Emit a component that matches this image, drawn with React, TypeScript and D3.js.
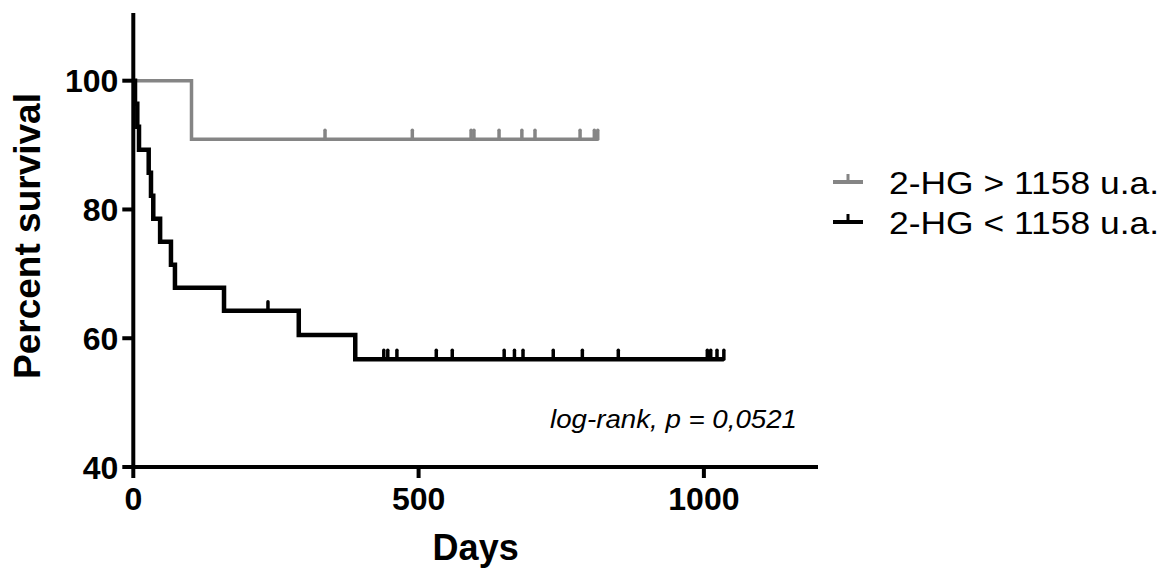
import React from "react";
import * as d3 from "d3";

// ---- data ----
const xTicks = [0, 500, 1000];
const yTicks = [40, 60, 80, 100];
const highEvents = [102];
const highCensored = [336, 489, 592, 597, 641, 681, 704, 783, 808, 814];
const lowEvents = [3, 7, 10, 27, 31, 35, 47, 66, 73, 159, 290, 389];
const lowCensored = [236, 439, 446, 462, 531, 559, 650, 668, 683, 736, 787, 850, 1006, 1012, 1023, 1035];
const seriesNames = ["2-HG > 1158 u.a.", "2-HG < 1158 u.a."];
const seriesColors = ["#858585", "#000000"];
const seriesWidths = [3.5, 4.5];
const pValueText = "log-rank, p = 0,0521";

type KM = { steps: [number, number][]; censors: [number, number][] };

function kaplanMeier(events: number[], censored: number[]): KM {
  const obs = [
    ...events.map((t) => ({ t, e: 1 })),
    ...censored.map((t) => ({ t, e: 0 })),
  ].sort((a, b) => a.t - b.t || b.e - a.e);
  let n = obs.length;
  let s = 100;
  const steps: [number, number][] = [[0, 100]];
  const censors: [number, number][] = [];
  for (const o of obs) {
    if (o.e) {
      s = (s * (n - 1)) / n;
      steps.push([o.t, s]);
    } else {
      censors.push([o.t, s]);
    }
    n -= 1;
  }
  const tEnd = obs[obs.length - 1].t;
  steps.push([tEnd, s]);
  return { steps, censors };
}

const W = 1174;
const H = 568;
const FONT = "Arial, 'Liberation Sans', Helvetica, sans-serif";

export default function App() {
  const x = d3.scaleLinear().domain([0, 1200]).range([133.3, 818]);
  const y = d3.scaleLinear().domain([40, 100]).range([467, 80.7]);
  const yTop = 110.5;

  const curves = [kaplanMeier(highEvents, highCensored), kaplanMeier(lowEvents, lowCensored)];
  const line = d3
    .line<[number, number]>()
    .x((d) => x(d[0]))
    .y((d) => y(d[1]))
    .curve(d3.curveStepAfter);

  const tickH = 9;

  return (
    <svg
      width={W}
      height={H}
      style={{ position: "absolute", left: 0, top: 0, background: "#fff" }}
      fontFamily={FONT}
    >
      <rect x={0} y={0} width={W} height={H} fill="#fff" />
      {/* curves */}
      {curves.map((c, i) => (
        <g key={i}>
          <path
            d={line(c.steps) || ""}
            fill="none"
            stroke={seriesColors[i]}
            strokeWidth={seriesWidths[i]}
            strokeLinejoin="miter"
          />
          {c.censors.map(([t, s], j) => (
            <line
              key={j}
              x1={x(t)}
              x2={x(t)}
              y1={y(s)}
              y2={y(s) - tickH}
              stroke={seriesColors[i]}
              strokeWidth={3.5}
              strokeLinecap="round"
            />
          ))}
        </g>
      ))}
      {/* y axis */}
      <line x1={x(0)} x2={x(0)} y1={y(yTop)} y2={y(40) + 2} stroke="#000" strokeWidth={4} />
      {yTicks.map((v) => (
        <g key={v}>
          <line x1={x(0) - 11} x2={x(0)} y1={y(v)} y2={y(v)} stroke="#000" strokeWidth={4} />
          <text
            x={x(0) - 15}
            y={y(v) + 11.5}
            textAnchor="end"
            fontSize={32}
            fontWeight="bold"
          >
            {v}
          </text>
        </g>
      ))}
      {/* x axis */}
      <line x1={x(0) - 2} x2={x(1200)} y1={y(40)} y2={y(40)} stroke="#000" strokeWidth={4} />
      {xTicks.map((v) => (
        <g key={v}>
          <line x1={x(v)} x2={x(v)} y1={y(40)} y2={y(40) + 11} stroke="#000" strokeWidth={4} />
          <text x={x(v)} y={510} textAnchor="middle" fontSize={32} fontWeight="bold">
            {v}
          </text>
        </g>
      ))}
      {/* axis titles */}
      <text x={(x(0) + x(1200)) / 2} y={560} textAnchor="middle" fontSize={36} fontWeight="bold">
        Days
      </text>
      <text
        transform={`translate(40, 236) rotate(-90)`}
        textAnchor="middle"
        fontSize={37}
        fontWeight="bold"
      >
        Percent survival
      </text>
      {/* p value */}
      <text
        x={550}
        y={428}
        fontSize={26}
        fontStyle="italic"
        textLength={247}
        lengthAdjust="spacingAndGlyphs"
      >
        {pValueText}
      </text>
      {/* legend */}
      {seriesNames.map((name, i) => {
        const ly = 182 + i * 40;
        return (
          <g key={name}>
            <line x1={833} x2={863} y1={ly} y2={ly} stroke={seriesColors[i]} strokeWidth={4} />
            <line x1={848} x2={848} y1={ly} y2={ly - 8} stroke={seriesColors[i]} strokeWidth={3} />
            <text
              x={889}
              y={ly + 11.5}
              fontSize={32}
              textLength={270}
              lengthAdjust="spacingAndGlyphs"
            >
              {name}
            </text>
          </g>
        );
      })}
    </svg>
  );
}
